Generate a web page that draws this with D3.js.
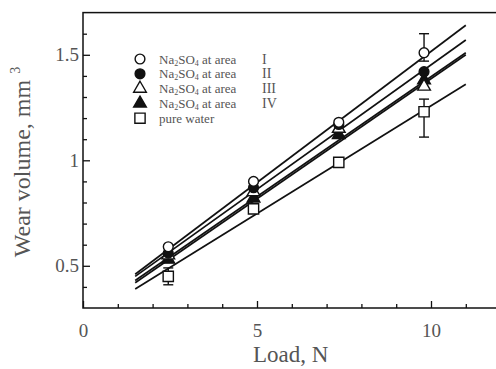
<!DOCTYPE html>
<html>
<head>
<meta charset="utf-8">
<script src="https://cdn.jsdelivr.net/npm/d3@7"></script>
<style>
  body { margin: 0; background: #fff; }
  svg { display: block; }
</style>
</head>
<body>
<div id="chart"></div>
<script>
// wear volume vs load, 4 Na2SO4 areas + pure water

var loads = [2.45, 4.9, 7.35, 9.8];

var areaI   = [0.59, 0.90, 1.18, 1.51];
var areaII  = [0.56, 0.87, 1.17, 1.42];
var areaIII = [0.55, 0.85, 1.15, 1.35];
var areaIV  = [0.53, 0.82, 1.12, 1.38];
var water   = [0.45, 0.77, 0.99, 1.23];

// fitted lines, value at load 1.5 and at load 11
var fitX = [1.5, 11];
var fitI   = [0.46, 1.64];
var fitII  = [0.45, 1.57];
var fitIII = [0.43, 1.51];
var fitIV  = [0.42, 1.50];
var fitW   = [0.39, 1.36];

// error bars [load, low, high]
var errI = [[9.8, 1.47, 1.60]];
var errW = [[2.45, 0.41, 0.49], [9.8, 1.11, 1.29]];

var legendLabels = ['at area', 'at area', 'at area', 'at area'];
var romans = ['I', 'II', 'III', 'IV'];

var xMajor = [0, 5, 10];
var yMajor = [0.5, 1, 1.5];

var W = 496, H = 369;
var svg = d3.select('#chart').append('svg')
    .attr('width', W).attr('height', H)
    .attr('font-family', '"Liberation Serif", "DejaVu Serif", serif');

var x = d3.scaleLinear().domain([0, 12]).range([83, 500.6]);
var y = d3.scaleLinear().domain([0.3, 1.7]).range([308, 12.6]);

// frame
svg.append('rect')
    .attr('x', x(0)).attr('y', y(1.7))
    .attr('width', x(12) - x(0)).attr('height', y(0.3) - y(1.7))
    .attr('fill', 'none').attr('stroke', '#111').attr('stroke-width', 1.5);

// ticks, pointing inward
var minorX = d3.range(1, 12).filter(d => xMajor.indexOf(d) < 0);
var minorY = d3.range(4, 17).map(d => d / 10).filter(d => yMajor.indexOf(d) < 0);

var gx = svg.append('g').attr('transform', 'translate(0,' + y(0.3) + ')');
gx.call(d3.axisBottom(x).tickValues(xMajor).tickSize(-7).tickPadding(16).tickFormat(d3.format('d')));
gx.append('g').call(d3.axisBottom(x).tickValues(minorX).tickSize(-4).tickFormat(''));

var gy = svg.append('g').attr('transform', 'translate(' + x(0) + ',0)');
gy.call(d3.axisLeft(y).tickValues(yMajor).tickSize(-7).tickPadding(4).tickFormat(d => d));
gy.append('g').call(d3.axisLeft(y).tickValues(minorY).tickSize(-4).tickFormat(''));

svg.selectAll('.domain').remove();
svg.selectAll('.tick line').attr('stroke', '#111').attr('stroke-width', 1.3);
svg.selectAll('.tick text')
    .attr('font-family', '"Liberation Serif", serif')
    .attr('font-size', 19).attr('fill', '#555');

// fitted lines
var fits = [fitI, fitII, fitIII, fitIV, fitW];
var line = d3.line().x(d => x(d[0])).y(d => y(d[1]));
fits.forEach(function(f) {
    svg.append('path')
        .attr('d', line(fitX.map((v, i) => [v, f[i]])))
        .attr('fill', 'none').attr('stroke', '#111').attr('stroke-width', 1.7);
});

// error bars
function drawErr(list) {
    list.forEach(function(e) {
        var g = svg.append('g').attr('stroke', '#111').attr('stroke-width', 1.4);
        g.append('line').attr('x1', x(e[0])).attr('x2', x(e[0])).attr('y1', y(e[1])).attr('y2', y(e[2]));
        g.append('line').attr('x1', x(e[0]) - 5).attr('x2', x(e[0]) + 5).attr('y1', y(e[1])).attr('y2', y(e[1]));
        g.append('line').attr('x1', x(e[0]) - 5).attr('x2', x(e[0]) + 5).attr('y1', y(e[2])).attr('y2', y(e[2]));
    });
}
drawErr(errI);
drawErr(errW);

// markers
var sym = {
    circle: d3.symbol().type(d3.symbolCircle).size(75),
    triangle: d3.symbol().type(d3.symbolTriangle).size(70),
    square: d3.symbol().type(d3.symbolSquare).size(105)
};
var series = [
    {vals: water,   shape: 'square',   fill: '#fff'},
    {vals: areaIV,  shape: 'triangle', fill: '#111'},
    {vals: areaIII, shape: 'triangle', fill: '#fff'},
    {vals: areaII,  shape: 'circle',   fill: '#111'},
    {vals: areaI,   shape: 'circle',   fill: '#fff'}
];
series.forEach(function(s) {
    svg.append('g').selectAll('path').data(s.vals).join('path')
        .attr('transform', (d, i) => 'translate(' + x(loads[i]) + ',' + y(d) + ')')
        .attr('d', sym[s.shape])
        .attr('fill', s.fill).attr('stroke', '#111').attr('stroke-width', 1.4);
});

// legend
var leg = svg.append('g').attr('transform', 'translate(140,59)');
var legShapes = [['circle', '#fff'], ['circle', '#111'], ['triangle', '#fff'], ['triangle', '#111'], ['square', '#fff']];
legShapes.forEach(function(s, i) {
    var row = leg.append('g').attr('transform', 'translate(0,' + i * 14.8 + ')');
    row.append('path').attr('d', sym[s[0]]).attr('fill', s[1]).attr('stroke', '#111').attr('stroke-width', 1.4);
    var t = row.append('text').attr('x', 19).attr('y', 4.5).attr('font-size', 13).attr('fill', '#555');
    if (i < 4) {
        t.append('tspan').text('Na');
        t.append('tspan').attr('font-size', 8).attr('dy', 2).text('2');
        t.append('tspan').attr('dy', -2).text('SO');
        t.append('tspan').attr('font-size', 8).attr('dy', 2).text('4');
        t.append('tspan').attr('dy', -2).text(' ' + legendLabels[i]);
        row.append('text').attr('x', 122).attr('y', 4.5).attr('font-size', 14).attr('fill', '#555').text(romans[i]);
    } else {
        t.text('pure water');
    }
});

// axis titles
svg.append('text')
    .attr('x', x(5) - 4).attr('y', 362)
    .attr('font-size', 23).attr('fill', '#555')
    .text('Load, N');

var yt = svg.append('text')
    .attr('transform', 'translate(30,162) rotate(-90)')
    .attr('text-anchor', 'middle')
    .attr('font-size', 24).attr('fill', '#555');
yt.append('tspan').text('Wear volume, mm');
yt.append('tspan').attr('font-size', 14).attr('dy', -10).attr('dx', 6).text('3');
</script>
</body>
</html>
